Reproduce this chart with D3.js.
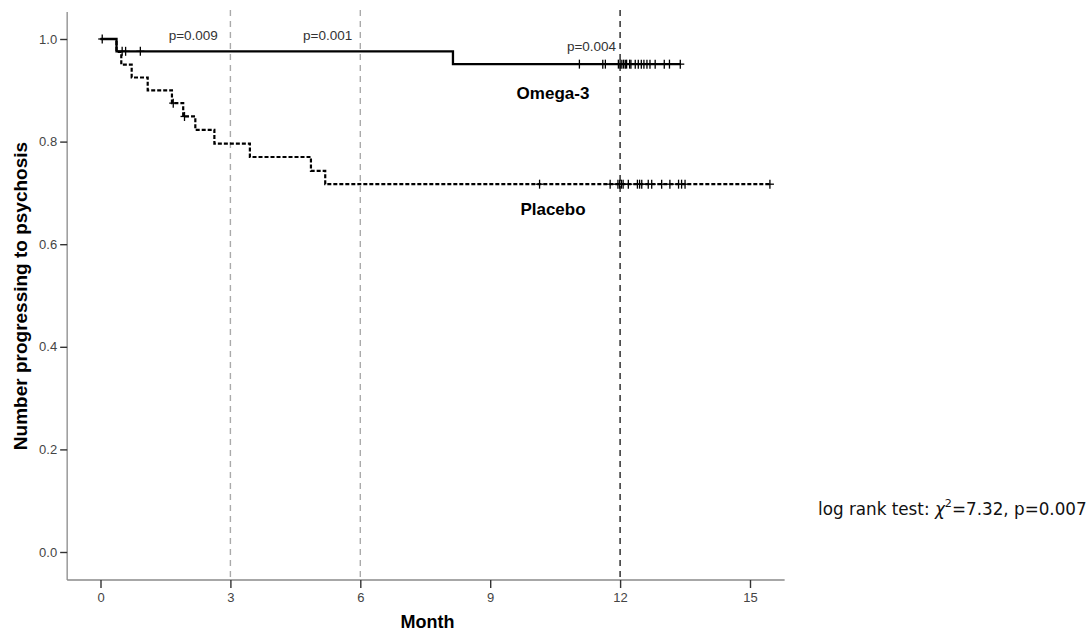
<!DOCTYPE html>
<html>
<head>
<meta charset="utf-8">
<script src="https://cdn.jsdelivr.net/npm/d3@7"></script>
<style>
  body { margin: 0; background: #fff; }
  svg text { font-family: "Liberation Sans", Arial, sans-serif; }
</style>
</head>
<body>
<svg id="chart" width="1092" height="632"></svg>
<script>
// tick labels
const monthTicks = [0, 3, 6, 9, 12, 15];
const propTicks = [0, 0.2, 0.4, 0.6, 0.8, 1.0];

// Omega-3 group: event times (months) and survival after each event
const omegaEventTimes = [0.37, 8.14];
const omegaSurvival = [0.976, 0.951];
const omegaCensored = [0.04, 0.5, 0.58, 0.92, 11.06, 11.6, 11.66, 11.96, 12.0, 12.04, 12.08,
  12.12, 12.15, 12.22, 12.25, 12.35, 12.42, 12.49, 12.55, 12.62, 12.69, 12.81, 13.02, 13.14, 13.39];
const omegaEnd = 13.39;

// Placebo group
const placeboEventTimes = [0.37, 0.48, 0.72, 1.09, 1.65, 1.91, 2.19, 2.63, 3.45, 4.86, 5.19];
const placeboSurvival = [0.975, 0.95, 0.925, 0.90, 0.875, 0.849, 0.823, 0.796, 0.770, 0.743, 0.717];
const placeboCensored = [1.68, 1.94, 10.14, 11.77, 11.95, 11.99, 12.03, 12.07, 12.19, 12.40, 12.45,
  12.50, 12.65, 12.73, 12.96, 13.15, 13.35, 13.42, 13.5, 15.46];
const placeboEnd = 15.46;

// reference months with p-values
const refMonths = [3, 6, 12];
const pLabels = ["p=0.009", "p=0.001", "p=0.004"];

const svg = d3.select("#chart");

const x = d3.scaleLinear().domain([0, 15]).range([100.5, 750]);
const y = d3.scaleLinear().domain([0, 1]).range([552, 39]);

// axis extents a bit wider than data
const xLo = -0.77, xHi = 15.8;
const yLo = -0.0546, yHi = 1.0526;

// dashed reference lines
svg.selectAll(".ref")
  .data(refMonths)
  .join("line")
  .attr("class", "ref")
  .attr("x1", d => x(d)).attr("x2", d => x(d))
  .attr("y1", y(yHi) - 2).attr("y2", y(yLo))
  .attr("stroke", d => d === 12 ? "#222" : "#aaa")
  .attr("stroke-width", 1.4)
  .attr("stroke-dasharray", "6,5");

// axes lines
svg.append("line")
  .attr("x1", x(xLo)).attr("x2", x(xHi))
  .attr("y1", y(yLo)).attr("y2", y(yLo))
  .attr("stroke", "#8a8a8a").attr("stroke-width", 1.3);
svg.append("line")
  .attr("x1", x(xLo)).attr("x2", x(xLo))
  .attr("y1", y(yHi)).attr("y2", y(yLo))
  .attr("stroke", "#8a8a8a").attr("stroke-width", 1.3);

const xAxis = svg.append("g")
  .attr("transform", `translate(0,${y(yLo)})`)
  .call(d3.axisBottom(x).tickValues(monthTicks).tickSize(8).tickPadding(5));
xAxis.select(".domain").remove();

const yAxis = svg.append("g")
  .attr("transform", `translate(${x(xLo)},0)`)
  .call(d3.axisLeft(y).tickValues(propTicks).tickFormat(d3.format(".1f")).tickSize(7).tickPadding(3));
yAxis.select(".domain").remove();

svg.selectAll(".tick line").attr("stroke", "#333").attr("stroke-width", 1.4);
svg.selectAll(".tick text").attr("fill", "#444").style("font-size", "13px")
  .style("font-family", "'Liberation Sans', Arial, sans-serif");

// step curves
function stepPoints(times, surv, end) {
  const pts = [[0, 1]];
  times.forEach((t, i) => pts.push([t, surv[i]]));
  pts.push([end, surv[surv.length - 1]]);
  return pts;
}
function survAt(times, surv, t) {
  let s = 1;
  times.forEach((tt, i) => { if (tt <= t) s = surv[i]; });
  return s;
}

const line = d3.line()
  .x(d => x(d[0]))
  .y(d => y(d[1]))
  .curve(d3.curveStepAfter);

svg.append("path")
  .datum(stepPoints(placeboEventTimes, placeboSurvival, placeboEnd))
  .attr("d", line)
  .attr("fill", "none")
  .attr("stroke", "#000")
  .attr("stroke-width", 2.2)
  .attr("stroke-dasharray", "4,2");

svg.append("path")
  .datum(stepPoints(omegaEventTimes, omegaSurvival, omegaEnd))
  .attr("d", line)
  .attr("fill", "none")
  .attr("stroke", "#000")
  .attr("stroke-width", 2.3);

// censor marks
function drawCensors(times, evTimes, surv) {
  const g = svg.append("g");
  times.forEach(t => {
    const cx = x(t), cy = y(survAt(evTimes, surv, t));
    g.append("line").attr("x1", cx).attr("x2", cx).attr("y1", cy - 4.5).attr("y2", cy + 4.5)
      .attr("stroke", "#000").attr("stroke-width", 1.3);
    g.append("line").attr("x1", cx - 4).attr("x2", cx + 4).attr("y1", cy).attr("y2", cy)
      .attr("stroke", "#000").attr("stroke-width", 1.3);
  });
}
drawCensors(omegaCensored, omegaEventTimes, omegaSurvival);
drawCensors(placeboCensored, placeboEventTimes, placeboSurvival);

// p-value labels next to reference lines
const pPos = [[x(3) - 12.5, y(1.0) + 0.5], [x(6) - 8, y(1.0) + 0.5], [x(12) - 4, y(0.975) - 1]];
svg.selectAll(".plab")
  .data(pLabels)
  .join("text")
  .attr("class", "plab")
  .attr("x", (d, i) => pPos[i][0])
  .attr("y", (d, i) => pPos[i][1])
  .attr("text-anchor", "end")
  .attr("fill", "#333")
  .style("font-size", "13.5px")
  .text(d => d);

// group labels
svg.append("text")
  .attr("x", x(10.45)).attr("y", y(0.9) + 8.5)
  .attr("text-anchor", "middle")
  .style("font-size", "17px").style("font-weight", "bold")
  .text("Omega-3");
svg.append("text")
  .attr("x", x(10.45)).attr("y", y(0.67) + 6.5)
  .attr("text-anchor", "middle")
  .style("font-size", "17px").style("font-weight", "bold")
  .text("Placebo");

// axis titles
svg.append("text")
  .attr("x", x(7.55)).attr("y", 628)
  .attr("text-anchor", "middle")
  .style("font-size", "18px").style("font-weight", "bold")
  .text("Month");

svg.append("text")
  .attr("transform", `translate(27,${(y(yLo) + y(yHi)) / 2}) rotate(-90)`)
  .attr("text-anchor", "middle")
  .style("font-size", "19px").style("font-weight", "bold")
  .text("Number progressing to psychosis");

// log rank annotation, shrunk to fit the width it has in the reference
const lr = svg.append("text")
  .attr("x", 818).attr("y", 515)
  .style("font-family", "'DejaVu Sans', Verdana, sans-serif")
  .style("font-size", "18px")
  .attr("fill", "#111");
lr.append("tspan").text("log rank test: ");
lr.append("tspan").style("font-style", "italic").text("\u03C7");
const sup = lr.append("tspan").attr("dy", -8).style("font-size", "12px").text("2");
lr.append("tspan").attr("dy", 8).text("=7.32, p=0.007");
const w = lr.node().getComputedTextLength();
const k = 269 / w;
lr.style("font-size", (18 * k) + "px");
sup.style("font-size", (12 * k) + "px");
</script>
</body>
</html>
